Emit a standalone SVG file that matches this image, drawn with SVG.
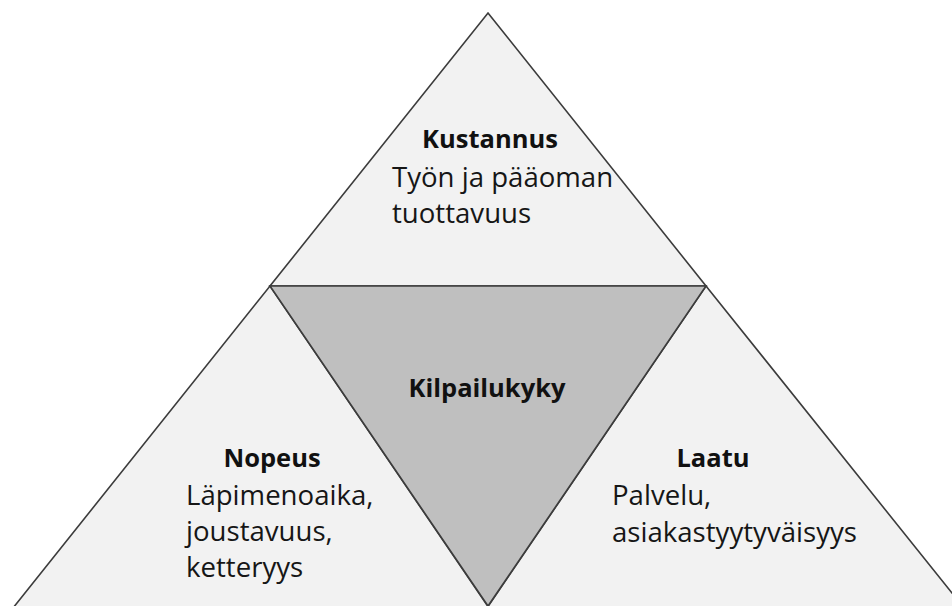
<svg xmlns="http://www.w3.org/2000/svg" width="952" height="606" viewBox="0 0 952 606">
<style>
.tri{fill:#f2f2f2;stroke:#3c3c3c;stroke-width:1.6;stroke-linejoin:miter}
.core{fill:#bfbfbf;stroke:#3c3c3c;stroke-width:1.6}
.h{font-family:"Open Sans","Noto Sans",sans-serif;font-weight:bold;font-size:25.5px;fill:#111;text-anchor:middle}
.t{font-family:"Open Sans","Noto Sans",sans-serif;font-size:27.6px;fill:#161616}
</style>
<rect width="952" height="606" fill="#ffffff"/>
<g id="kustannus">
<polygon class="tri" points="488,13 706,286 270,286"/>
<text class="h" x="490" y="148">Kustannus</text>
<text class="t" x="392" y="187">Työn ja pääoman</text>
<text class="t" x="392" y="223">tuottavuus</text>
</g>
<g id="nopeus">
<polygon class="tri" points="270,286 489,608 13,608"/>
<text class="h" x="272" y="467">Nopeus</text>
<text class="t" x="186" y="505">Läpimenoaika,</text>
<text class="t" x="186" y="541">joustavuus,</text>
<text class="t" x="186" y="577">ketteryys</text>
</g>
<g id="laatu">
<polygon class="tri" points="706,286 964,608 487,608"/>
<text class="h" x="713" y="467">Laatu</text>
<text class="t" x="612" y="505">Palvelu,</text>
<text class="t" x="612" y="542">asiakastyytyväisyys</text>
</g>
<g id="kilpailukyky">
<polygon class="core" points="270,286 706,286 488,606"/>
<text class="h" x="487" y="397">Kilpailukyky</text>
</g>
<g id="connectors"></g>
</svg>
